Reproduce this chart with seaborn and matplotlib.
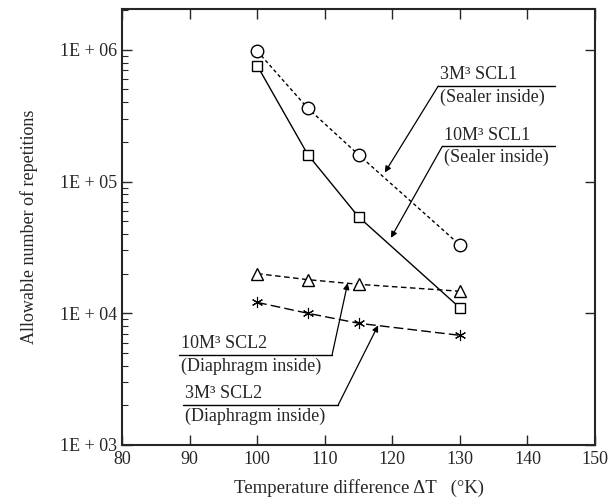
import numpy as np
import pandas as pd
import matplotlib
matplotlib.use("Agg")
import matplotlib.pyplot as plt
import seaborn as sns
from matplotlib.ticker import FixedLocator, LogLocator, NullFormatter, FixedFormatter

# data
delta_t = [100, 107.5, 115, 130]
scl1_3m = [9.8e5, 3.6e5, 1.6e5, 3.3e4]    # circles, dotted
scl1_10m = [7.6e5, 1.6e5, 5.4e4, 1.1e4]   # squares, solid
scl2_10m = [2.0e4, 1.8e4, 1.66e4, 1.47e4]  # triangles, dashed
scl2_3m = [1.21e4, 1.0e4, 8.4e3, 6.8e3]   # asterisks, long dash

y_ticks = [1e3, 1e4, 1e5, 1e6]
y_tick_labels = ["1E + 03", "1E + 04", "1E + 05", "1E + 06"]
x_ticks = [80, 90, 100, 110, 120, 130, 140, 150]

series = [
    ("3M3 SCL1", scl1_3m, "o", (2.5, 2), 9, 1.0),
    ("10M3 SCL1", scl1_10m, "s", "", 7.5, 1.0),
    ("10M3 SCL2", scl2_10m, "^", (4, 2.5), 8.5, 1.0),
    ("3M3 SCL2", scl2_3m, (6, 2, 0), (7, 3), 8, 0.8),
]

# callouts: label lines, text corner, arrow tip, end of underline
callouts = [
    ("3M³ SCL1", "(Sealer inside)", (126.8, 10**5.725), (118.9, 10**5.069), 144.1),
    ("10M³ SCL1", "(Sealer inside)", (127.4, 10**5.267), (119.8, 10**4.573), 144.1),
    ("10M³ SCL2", "(Diaphragm inside)", (111.1, 10**3.687), (113.4, 10**4.229), 88.4),
    ("3M³ SCL2", "(Diaphragm inside)", (112.0, 10**3.305), (117.9, 10**3.908), 89.0),
]

sns.set_style("ticks")
plt.rcParams['font.family'] = ['Liberation Serif', 'DejaVu Serif']

fig = plt.figure(figsize=(6.08, 5.01), dpi=100)
ax = fig.add_axes([122 / 608, 1 - 445 / 501, (595 - 122) / 608, (445 - 9) / 501])

for name, vals, mk, dash, ms, mew in series:
    df = pd.DataFrame({"dT": delta_t, "N": vals})
    ls = "-" if dash == "" else (0, dash)
    sns.lineplot(data=df, x="dT", y="N", ax=ax, color="black", lw=1.0,
                 linestyle=ls, marker=mk, markersize=ms,
                 markerfacecolor="white", markeredgecolor="black",
                 markeredgewidth=mew)

ax.set_yscale("log")
ax.set_xlim(80, 150)
ax.set_ylim(1e3, 10**6.31)

ax.yaxis.set_major_locator(FixedLocator(y_ticks))
ax.yaxis.set_major_formatter(FixedFormatter(y_tick_labels))
ax.yaxis.set_minor_locator(LogLocator(base=10, subs=np.arange(2, 10)))
ax.yaxis.set_minor_formatter(NullFormatter())
ax.set_xticks(x_ticks)

ax.tick_params(axis="both", which="major", direction="in", length=7, width=1.0,
               labelsize=13, top=True, right=True)
ax.tick_params(axis="y", which="minor", direction="in", length=4, width=0.8,
               right=False)
ax.tick_params(axis="x", pad=4)
for sp in ax.spines.values():
    sp.set_linewidth(1.5)

ax.set_xlabel("Temperature difference ΔT   (°K)", fontsize=13.5, labelpad=8)
ax.set_ylabel("Allowable number of repetitions", fontsize=13, labelpad=16)

for top, bottom, corner, tip, line_end in callouts:
    ax.annotate("", xy=tip, xytext=corner, xycoords="data", textcoords="data",
                arrowprops=dict(arrowstyle="-|>", color="black", lw=0.9,
                                mutation_scale=9, shrinkA=0, shrinkB=0))
    ax.plot([corner[0], line_end], [corner[1], corner[1]], color="black", lw=1.0)
    x_txt = min(corner[0], line_end) + 0.3
    ax.annotate(top, xy=(x_txt, corner[1]), xytext=(0, 2), textcoords="offset points",
                ha="left", va="bottom", fontsize=13)
    ax.annotate(bottom, xy=(x_txt, corner[1]), xytext=(0, -2), textcoords="offset points",
                ha="left", va="top", fontsize=13)

fig.savefig("out.png", dpi=100)
